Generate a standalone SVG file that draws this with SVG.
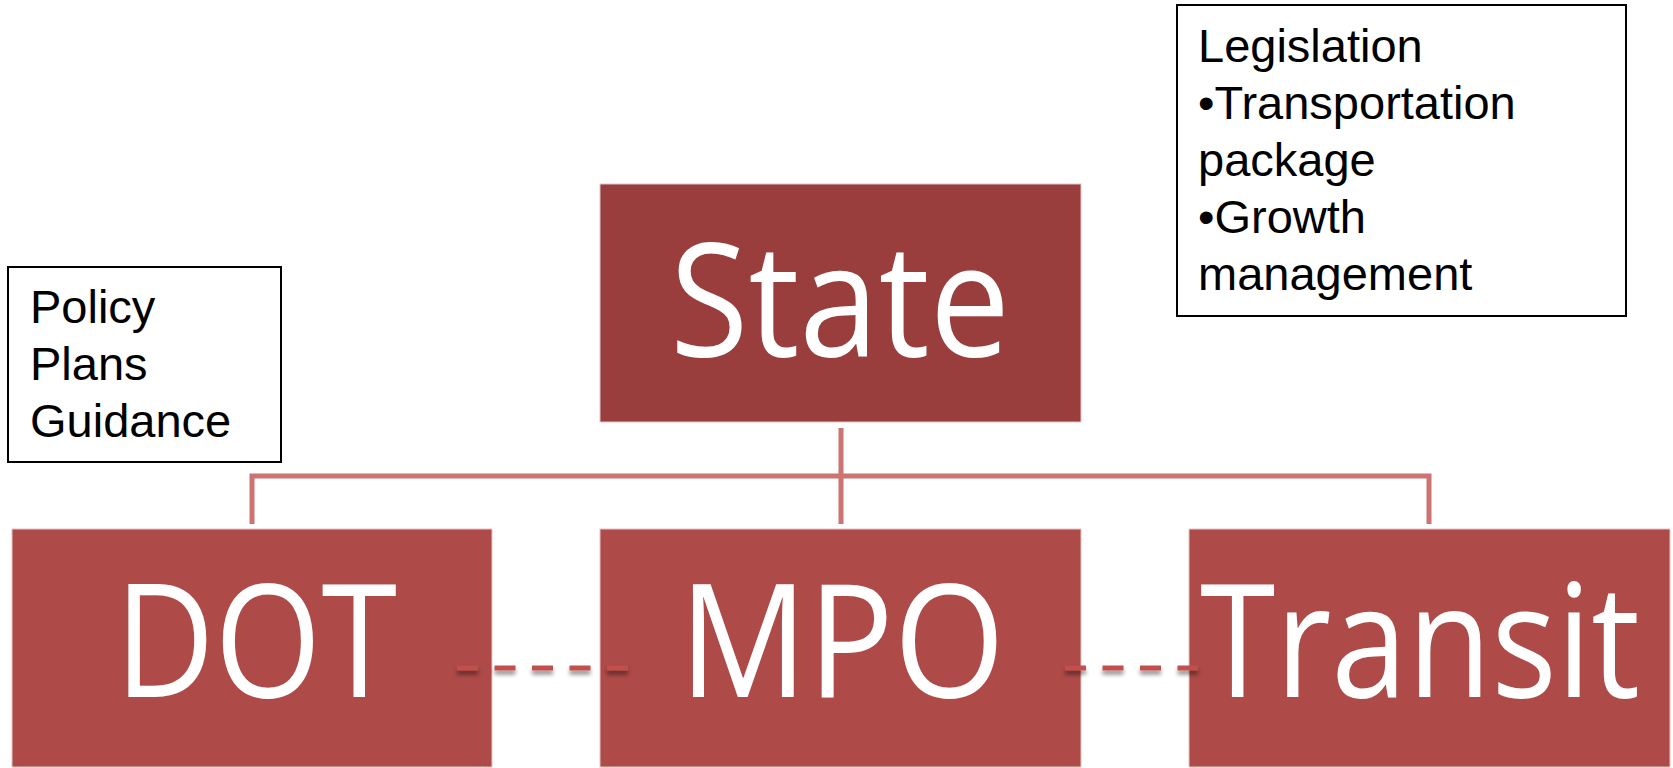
<svg xmlns="http://www.w3.org/2000/svg" width="1673" height="768" viewBox="0 0 1673 768">
  <defs>
    <style>
      .big { font-family: "Open Sans", "Liberation Sans", sans-serif; font-size: 158px; fill: #ffffff; text-anchor: middle; }
      .note { font-family: "Liberation Sans", Arial, sans-serif; font-size: 47px; fill: #000000; }
      .noteBox { fill: #ffffff; stroke: #000000; stroke-width: 2; }
      .top { fill: #993d3d; stroke: #e8c4c3; stroke-width: 1; }
      .bottom { fill: #ae4a47; stroke: #e8c4c3; stroke-width: 1; }
      .conn { fill: none; stroke: #cd7371; stroke-width: 5; }
      .dash { fill: none; stroke: #c0504d; stroke-width: 5; stroke-dasharray: 21 16.5; }
    </style>
    <filter id="shadow" filterUnits="userSpaceOnUse" x="400" y="640" width="850" height="60">
      <feGaussianBlur in="SourceAlpha" stdDeviation="2"/>
      <feOffset dx="0" dy="4" result="b"/>
      <feComponentTransfer><feFuncA type="linear" slope="0.45"/></feComponentTransfer>
      <feMerge><feMergeNode/><feMergeNode in="SourceGraphic"/></feMerge>
    </filter>
  </defs>
  <rect width="1673" height="768" fill="#ffffff"/>

  <g id="connectors">
    <path class="conn" d="M841 428 V524 M252 524 V476 H1429 V524"/>
  </g>

  <g id="state">
    <rect class="top" x="600" y="184" width="481" height="238"/>
    <text class="big" x="840" y="356" textLength="340" lengthAdjust="spacingAndGlyphs">State</text>
  </g>

  <g id="dot">
    <rect class="bottom" x="12" y="529" width="480" height="238"/>
    <text class="big" x="256" y="697" textLength="282" lengthAdjust="spacingAndGlyphs">DOT</text>
  </g>

  <g id="mpo">
    <rect class="bottom" x="600" y="529" width="481" height="238"/>
    <text class="big" x="842" y="697" textLength="326" lengthAdjust="spacingAndGlyphs">MPO</text>
  </g>

  <g id="transit">
    <rect class="bottom" x="1189" y="529" width="481" height="238"/>
    <text class="big" x="1420" y="697" textLength="440" lengthAdjust="spacingAndGlyphs">Transit</text>
  </g>

  <g id="dashed-links" filter="url(#shadow)">
    <path class="dash" d="M457 668 H628"/>
    <path class="dash" d="M1065 668 H1198"/>
  </g>

  <g id="policy-note">
    <rect class="noteBox" x="8" y="267" width="273" height="195"/>
    <text class="note" x="30" y="323">Policy</text>
    <text class="note" x="30" y="380">Plans</text>
    <text class="note" x="30" y="437">Guidance</text>
  </g>

  <g id="legislation-note">
    <rect class="noteBox" x="1177" y="5" width="449" height="311"/>
    <text class="note" x="1198" y="62">Legislation</text>
    <text class="note" x="1198" y="119">•Transportation</text>
    <text class="note" x="1198" y="176">package</text>
    <text class="note" x="1198" y="233">•Growth</text>
    <text class="note" x="1198" y="290">management</text>
  </g>
</svg>
